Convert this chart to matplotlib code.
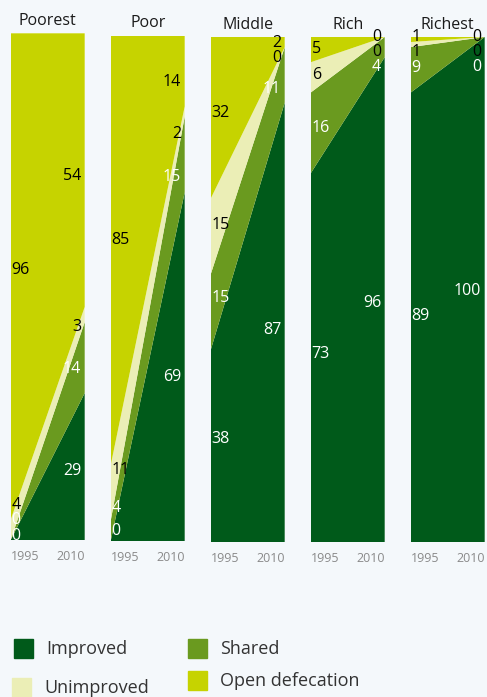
import matplotlib.pyplot as plt
import numpy as np

plt.rcParams['font.family'] = ['Open Sans', 'DejaVu Sans']

W, H = 487, 697
BG = '#f4f8fb'

groups = ['Poorest', 'Poor', 'Middle', 'Rich', 'Richest']
years = [1995, 2010]
categories = ['Improved', 'Shared', 'Unimproved', 'Open defecation']
# values per group: [1995, 2010]
improved = [[0, 29], [0, 69], [38, 87], [73, 96], [89, 100]]
shared = [[0, 14], [4, 15], [15, 11], [16, 4], [9, 0]]
unimproved = [[4, 3], [11, 2], [15, 0], [6, 0], [1, 0]]
open_def = [[96, 54], [85, 14], [32, 2], [5, 0], [1, 0]]

colors = ['#005a1a', '#6a9a1f', '#ebeeb6', '#c6d300']
text_cols = ['white', 'white', 'black', 'black']

# panel layout in pixels (left, top, bottom)
panels = [(10.7, 33.3, 540), (110.7, 35.7, 541), (210.7, 37, 542),
          (310.7, 37, 542), (410.7, 37, 542)]
PW = 74

fig = plt.figure(figsize=(W / 100, H / 100), dpi=100, facecolor=BG)


def spread(pos, gap=3.0):
    # push labels apart, bottom up, then clamp from the top
    pos = list(pos)
    for i in range(1, len(pos)):
        if pos[i] < pos[i - 1] + gap:
            pos[i] = pos[i - 1] + gap
    if pos[-1] > 100:
        pos[-1] = 100
        for i in range(len(pos) - 2, -1, -1):
            if pos[i] > pos[i + 1] - gap:
                pos[i] = pos[i + 1] - gap
    return pos


for g, name in enumerate(groups):
    left, top, bot = panels[g]
    ax = fig.add_axes([left / W, (H - bot) / H, PW / W, (bot - top) / H])
    series = np.array([improved[g], shared[g], unimproved[g], open_def[g]], dtype=float)
    ax.stackplot(years, series, colors=colors, linewidth=0)
    ax.set_xlim(1995, 2010)
    ax.set_ylim(0, 100)
    ax.set_yticks([])
    ax.set_xticks(years)
    ax.set_xticklabels(['1995', '2010'], color='#8a8a8a', fontsize=9)
    tl = ax.get_xticklabels()
    tl[0].set_ha('left')
    tl[1].set_ha('right')
    ax.tick_params(axis='x', length=0, pad=7)
    for s in ax.spines.values():
        s.set_visible(False)
    ax.set_title(name, fontsize=11.5, color='#1a1a1a', pad=6)

    cum = np.vstack([np.zeros(2), np.cumsum(series, axis=0)])
    for side, f in [(0, 0.06), (1, 0.94)]:
        lo = cum[:-1, 0] * (1 - f) + cum[:-1, 1] * f
        hi = cum[1:, 0] * (1 - f) + cum[1:, 1] * f
        mids = spread((lo + hi) / 2)
        for k in range(4):
            x = 1995.2 if side == 0 else 2009.3
            ax.text(x, mids[k], f'{int(series[k, side])}',
                    ha='left' if side == 0 else 'right', va='center',
                    fontsize=11.5, color=text_cols[k], clip_on=False)

# legend
leg = [(0, 14, 639, 46), (1, 188, 639, 220), (2, 12, 678, 44), (3, 188, 671, 220)]
for k, sx, sy, tx in leg:
    fig.patches.append(plt.Rectangle((sx / W, 1 - (sy + 19) / H), 19 / W, 19 / H,
                                     transform=fig.transFigure, color=colors[k]))
    fig.text(tx / W, 1 - (sy + 10) / H, categories[k], fontsize=13,
             color='#333333', va='center', ha='left')

fig.savefig('out.png', dpi=100, facecolor=BG)
